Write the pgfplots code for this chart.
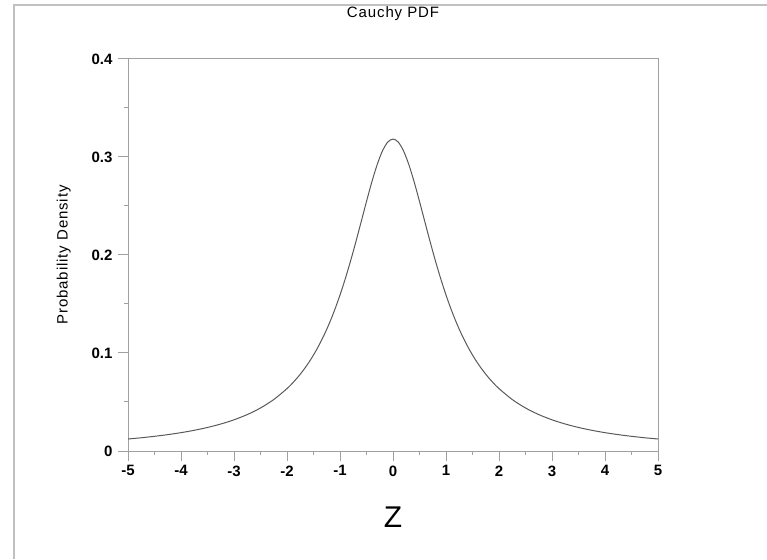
\documentclass[border=0pt]{standalone}
\usepackage{pgfplots}
\pgfplotsset{compat=1.18}
\usepackage{fontspec}
\setmainfont{Liberation Sans}
\newfontfamily\spaced[LetterSpace=6]{Liberation Sans}
\definecolor{axgray}{HTML}{A0A0A0}
\definecolor{bordergray}{HTML}{C0C0C0}
\begin{document}
\begin{tikzpicture}[x=1pt,y=1pt]
\useasboundingbox (0,0) rectangle (767,559);
\draw[bordergray, line width=2pt] (14,0) -- (14,554) -- (767,554);
\begin{axis}[
  at={(128pt,108pt)}, anchor=south west,
  scale only axis, width=530pt, height=392pt,
  xmin=-5, xmax=5, ymin=0, ymax=0.4,
  xtick={-5,...,5}, ytick={0,0.1,0.2,0.3,0.4},
  minor tick num=1,
  tick align=outside, xtick pos=left, ytick pos=left,
  major tick length=10pt, minor tick length=4pt,
  axis line style={axgray, line width=1pt},
  every tick/.style={axgray, line width=1pt},
  tick label style={font=\fontsize{15}{15}\selectfont\bfseries},
  /pgf/number format/assume math mode=true,
  yticklabel style={xshift=-2pt},
  xticklabel style={yshift=-1pt},
  title={\spaced\fontsize{15}{15}\selectfont Cauchy PDF},
  title style={at={(0.5,1)}, anchor=south, yshift=29pt},
  xlabel={\fontsize{30}{30}\selectfont Z},
  xlabel style={yshift=-24pt},
  ylabel={\spaced\fontsize{15}{15}\selectfont Probability Density},
  ylabel style={yshift=14pt},
]
\addplot[smooth, color=black!65, line width=1pt] coordinates {
(-5,0.012243) (-4.75,0.013509) (-4.5,0.014979) (-4.25,0.016698) (-4,0.018724)
(-3.75,0.021133) (-3.5,0.024023) (-3.25,0.027530) (-3,0.031831)
(-2.75,0.037175) (-2.5,0.043905) (-2.25,0.052505) (-2,0.063662)
(-1.9,0.069048) (-1.8,0.075073) (-1.7,0.081828) (-1.6,0.089413)
(-1.5,0.097942) (-1.4,0.107537) (-1.3,0.118331) (-1.2,0.130455)
(-1.1,0.144032) (-1,0.159155) (-0.9,0.175862) (-0.8,0.194091)
(-0.7,0.213631) (-0.6,0.234051) (-0.5,0.254648) (-0.4,0.274405)
(-0.3,0.292028) (-0.2,0.306067) (-0.1,0.315159) (0,0.318310)
(0.1,0.315159) (0.2,0.306067) (0.3,0.292028) (0.4,0.274405)
(0.5,0.254648) (0.6,0.234051) (0.7,0.213631) (0.8,0.194091)
(0.9,0.175862) (1,0.159155) (1.1,0.144032) (1.2,0.130455)
(1.3,0.118331) (1.4,0.107537) (1.5,0.097942) (1.6,0.089413)
(1.7,0.081828) (1.8,0.075073) (1.9,0.069048) (2,0.063662)
(2.25,0.052505) (2.5,0.043905) (2.75,0.037175) (3,0.031831)
(3.25,0.027530) (3.5,0.024023) (3.75,0.021133) (4,0.018724)
(4.25,0.016698) (4.5,0.014979) (4.75,0.013509) (5,0.012243)
};
\end{axis}
\end{tikzpicture}
\end{document}
